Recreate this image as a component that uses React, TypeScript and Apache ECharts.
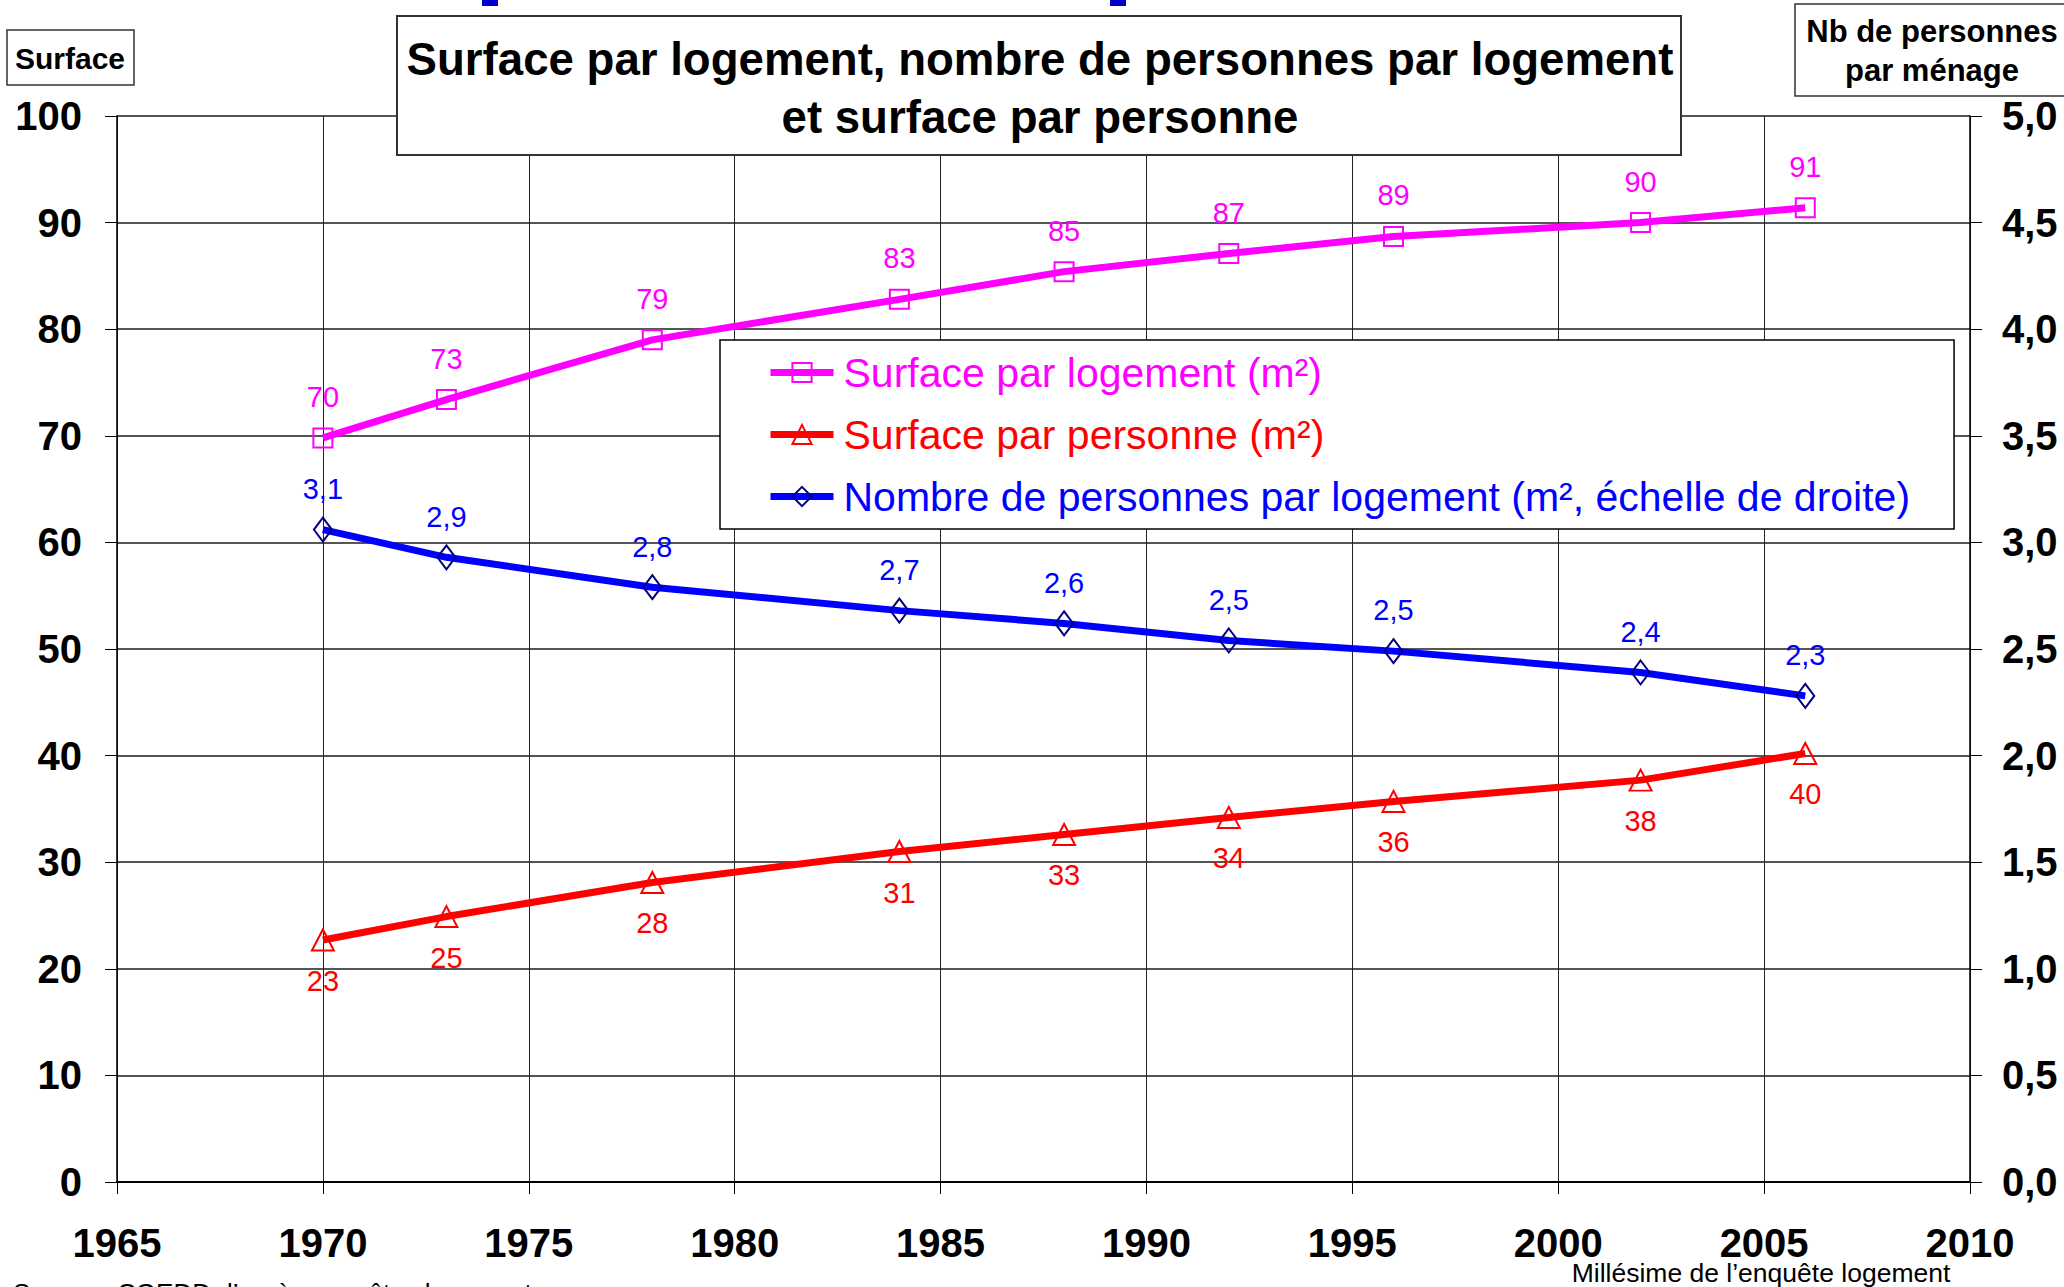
import React, { useEffect, useRef } from "react";
import * as echarts from "echarts";

const years = [1970, 1973, 1978, 1984, 1988, 1992, 1996, 2002, 2006];
const surfaceParLogement = [69.8, 73.4, 79.0, 82.8, 85.4, 87.1, 88.7, 90.0, 91.4];
const surfaceParPersonne = [22.7, 24.9, 28.1, 31.0, 32.6, 34.2, 35.7, 37.7, 40.2];
const personnesParLogement = [3.06, 2.93, 2.79, 2.68, 2.62, 2.54, 2.49, 2.39, 2.28];

const seriesNames = [
  "Surface par logement (m²)",
  "Surface par personne (m²)",
  "Nombre de personnes par logement (m², échelle de droite)",
];
const seriesColors = ["#FF00FF", "#FF0000", "#0000FF"];

const xMin = 1965;
const xMax = 2010;
const xStep = 5;
const leftMin = 0;
const leftMax = 100;
const leftStep = 10;
const rightMin = 0;
const rightMax = 5;
const rightStep = 0.5;

const titleLines = [
  "Surface par logement, nombre de personnes par logement",
  "et surface par personne",
];
const leftUnit = "Surface";
const rightUnitLines = ["Nb de personnes", "par ménage"];
const xAxisName = "Millésime de l’enquête logement";
const sourceText = "Source : CGEDD d’après enquêtes logement";

const FONT = "'Liberation Sans', Arial, Helvetica, sans-serif";

const fr1 = (v: number) => v.toFixed(1).replace(".", ",");

export default function App() {
  const ref = useRef<HTMLDivElement>(null);

  useEffect(() => {
    if (!ref.current) return;
    const chart = echarts.init(ref.current, null, { renderer: "svg" });

    const pairs = (vals: number[]) => years.map((y, i) => [y, vals[i]]);

    const option: any = {
      animation: false,
      backgroundColor: "#ffffff",
      textStyle: { fontFamily: FONT },
      grid: { left: 117, right: 94, top: 116, bottom: 105, containLabel: false },
      xAxis: {
        type: "value",
        min: xMin,
        max: xMax,
        interval: xStep,
        axisLine: { show: true, lineStyle: { color: "#000", width: 2 } },
        axisTick: { show: true, length: 12, lineStyle: { color: "#000", width: 1 } },
        axisLabel: {
          fontSize: 40,
          fontWeight: "bold",
          color: "#000",
          margin: 43,
          lineHeight: 36,
          fontFamily: FONT,
          formatter: (v: number) => String(v),
        },
        splitLine: { show: true, lineStyle: { color: "#222", width: 1 } },
      },
      yAxis: [
        {
          type: "value",
          position: "left",
          min: leftMin,
          max: leftMax,
          interval: leftStep,
          axisLine: { show: true, lineStyle: { color: "#000", width: 1.5 } },
          axisTick: { show: true, length: 12, lineStyle: { color: "#000", width: 1 } },
          axisLabel: {
            fontSize: 40,
            fontWeight: "bold",
            color: "#000",
            margin: 35,
            fontFamily: FONT,
          },
          splitLine: { show: true, lineStyle: { color: "#555", width: 2 } },
        },
        {
          type: "value",
          position: "right",
          min: rightMin,
          max: rightMax,
          interval: rightStep,
          axisLine: { show: true, lineStyle: { color: "#000", width: 1.5 } },
          axisTick: { show: true, length: 12, lineStyle: { color: "#000", width: 1 } },
          axisLabel: {
            fontSize: 40,
            fontWeight: "bold",
            color: "#000",
            margin: 32,
            fontFamily: FONT,
            formatter: (v: number) => fr1(v),
          },
          splitLine: { show: false },
        },
      ],
      legend: {
        orient: "vertical",
        left: 720,
        top: 340,
        backgroundColor: "#fff",
        borderColor: "#000",
        borderWidth: 1.5,
        padding: [12, 44, 12, 47],
        itemWidth: 63,
        itemHeight: 24,
        itemGap: 21,
        selectedMode: false,
        lineStyle: { width: 7 },
        itemStyle: { borderWidth: 2 },
        textStyle: { fontSize: 41, fontFamily: FONT, padding: [0, 0, 0, 5] },
        data: seriesNames.map((n, i) => ({ name: n, textStyle: { color: seriesColors[i] } })),
        z: 10,
      },
      series: [
        {
          name: seriesNames[0],
          type: "line",
          xAxisIndex: 0,
          yAxisIndex: 0,
          data: pairs(surfaceParLogement),
          symbol: "rect",
          symbolSize: 19,
          silent: true,
          emphasis: { disabled: true },
          lineStyle: { color: seriesColors[0], width: 7 },
          itemStyle: { color: "transparent", borderColor: seriesColors[0], borderWidth: 2 },
          label: {
            show: true,
            position: "top",
            distance: 16,
            color: seriesColors[0],
            fontSize: 29,
            fontFamily: FONT,
            formatter: (p: any) => String(Math.round(p.value[1])),
          },
          z: 3,
        },
        {
          name: seriesNames[1],
          type: "line",
          xAxisIndex: 0,
          yAxisIndex: 0,
          data: pairs(surfaceParPersonne),
          symbol: "triangle",
          symbolSize: [22, 21],
          silent: true,
          emphasis: { disabled: true },
          lineStyle: { color: seriesColors[1], width: 7 },
          itemStyle: { color: "transparent", borderColor: seriesColors[1], borderWidth: 2 },
          label: {
            show: true,
            position: "bottom",
            distance: 15,
            color: seriesColors[1],
            fontSize: 29,
            fontFamily: FONT,
            formatter: (p: any) => String(Math.round(p.value[1])),
          },
          z: 3,
        },
        {
          name: seriesNames[2],
          type: "line",
          xAxisIndex: 0,
          yAxisIndex: 1,
          data: pairs(personnesParLogement),
          symbol: "diamond",
          symbolSize: [18, 24],
          silent: true,
          emphasis: { disabled: true },
          lineStyle: { color: seriesColors[2], width: 7 },
          itemStyle: { color: "transparent", borderColor: "#000080", borderWidth: 2 },
          label: {
            show: true,
            position: "top",
            distance: 13,
            color: seriesColors[2],
            fontSize: 29,
            fontFamily: FONT,
            formatter: (p: any) => fr1(p.value[1]),
          },
          z: 3,
        },
      ],
      graphic: [
        { type: "rect", z: 100, shape: { x: 482, y: 0, width: 16, height: 6 }, style: { fill: "#0000CC" } },
        { type: "rect", z: 100, shape: { x: 1110, y: 0, width: 16, height: 6 }, style: { fill: "#0000CC" } },
        {
          type: "rect",
          z: 100,
          shape: { x: 397, y: 16, width: 1284, height: 139 },
          style: { fill: "#fff", stroke: "#333", lineWidth: 2 },
        },
        {
          type: "text",
          z: 101,
          x: 1040,
          y: 59,
          style: {
            text: titleLines[0],
            font: `bold 45.6px ${FONT}`,
            fill: "#000",
            align: "center",
            verticalAlign: "middle",
          },
        },
        {
          type: "text",
          z: 101,
          x: 1040,
          y: 117,
          style: {
            text: titleLines[1],
            font: `bold 45.6px ${FONT}`,
            fill: "#000",
            align: "center",
            verticalAlign: "middle",
          },
        },
        {
          type: "rect",
          z: 100,
          shape: { x: 7, y: 30, width: 127, height: 55 },
          style: { fill: "#fff", stroke: "#333", lineWidth: 1.5 },
        },
        {
          type: "text",
          z: 101,
          x: 70,
          y: 58,
          style: {
            text: leftUnit,
            font: `bold 30px ${FONT}`,
            fill: "#000",
            align: "center",
            verticalAlign: "middle",
          },
        },
        {
          type: "rect",
          z: 100,
          shape: { x: 1795, y: 4, width: 290, height: 92 },
          style: { fill: "#fff", stroke: "#333", lineWidth: 1.5 },
        },
        {
          type: "text",
          z: 101,
          x: 1932,
          y: 31,
          style: {
            text: rightUnitLines[0],
            font: `bold 31px ${FONT}`,
            fill: "#000",
            align: "center",
            verticalAlign: "middle",
          },
        },
        {
          type: "text",
          z: 101,
          x: 1932,
          y: 70,
          style: {
            text: rightUnitLines[1],
            font: `bold 31px ${FONT}`,
            fill: "#000",
            align: "center",
            verticalAlign: "middle",
          },
        },
        {
          type: "text",
          z: 101,
          x: 1761,
          y: 1273,
          style: {
            text: xAxisName,
            font: `26.5px ${FONT}`,
            lineHeight: 22,
            fill: "#000",
            align: "center",
            verticalAlign: "middle",
          },
        },
        {
          type: "text",
          z: 101,
          x: 13,
          y: 1280,
          style: {
            text: sourceText,
            font: `26px ${FONT}`,
            fill: "#000",
            align: "left",
            verticalAlign: "top",
          },
        },
      ],
    };

    chart.setOption(option);
    return () => chart.dispose();
  }, []);

  return (
    <div
      ref={ref}
      style={{ position: "fixed", left: 0, top: 0, width: 2064, height: 1287, background: "#fff" }}
    />
  );
}
